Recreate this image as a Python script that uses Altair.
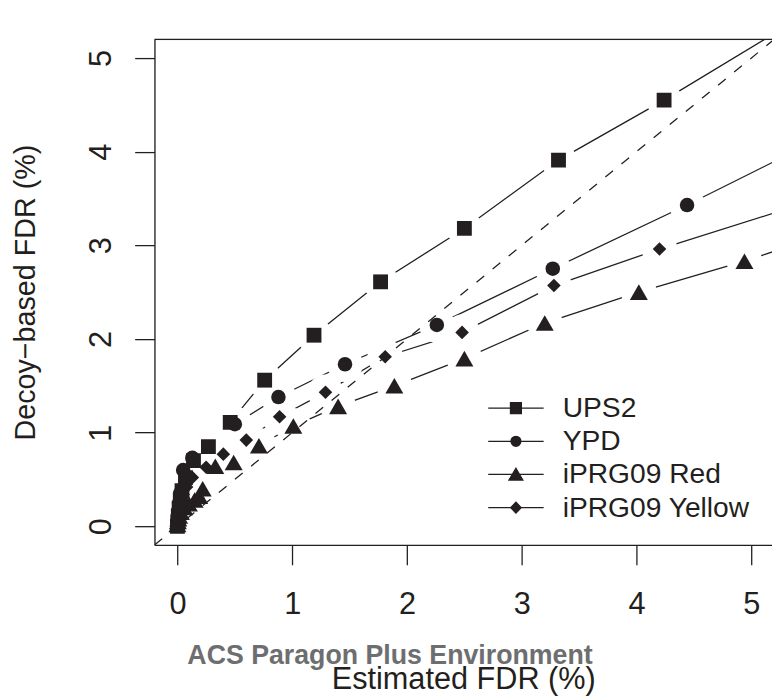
import altair as alt
import pandas as pd

INK = "#231f20"
FONT = "Liberation Sans"

series_names = ["UPS2", "YPD", "iPRG09 Red", "iPRG09 Yellow"]

ups2_x = [0.00, 0.004, 0.008, 0.015, 0.025, 0.04, 0.07, 0.14, 0.27, 0.46, 0.76, 1.19, 1.77, 2.50, 3.32, 4.24, 5.40]
ups2_y = [0.00, 0.05, 0.11, 0.19, 0.28, 0.38, 0.52, 0.70, 0.85, 1.11, 1.56, 2.04, 2.61, 3.18, 3.91, 4.55, 5.41]

ypd_x = [0.00, 0.004, 0.008, 0.015, 0.025, 0.05, 0.13, 0.50, 0.88, 1.46, 2.26, 3.27, 4.44, 5.60]
ypd_y = [0.03, 0.10, 0.17, 0.25, 0.35, 0.60, 0.73, 1.09, 1.38, 1.73, 2.15, 2.75, 3.43, 4.14]

red_x = [0.00, 0.004, 0.008, 0.015, 0.03, 0.06, 0.10, 0.15, 0.19, 0.22, 0.33, 0.49, 0.71, 1.01, 1.40, 1.89, 2.50, 3.20, 4.02, 4.94, 5.60]
red_y = [0.02, 0.05, 0.08, 0.11, 0.15, 0.20, 0.24, 0.28, 0.32, 0.40, 0.64, 0.68, 0.86, 1.07, 1.28, 1.50, 1.79, 2.17, 2.50, 2.83, 3.10]

yel_x = [0.00, 0.004, 0.008, 0.015, 0.03, 0.05, 0.08, 0.13, 0.25, 0.40, 0.60, 0.89, 1.29, 1.81, 2.48, 3.28, 4.20, 5.60]
yel_y = [0.04, 0.08, 0.13, 0.19, 0.26, 0.34, 0.42, 0.52, 0.63, 0.77, 0.92, 1.17, 1.43, 1.81, 2.07, 2.57, 2.96, 3.50]

tick_values = [0, 1, 2, 3, 4, 5]
x_title = "Estimated FDR (%)"
y_title = "Decoy\u2212based FDR (%)"
watermark = "ACS Paragon Plus Environment"

X_DOM = [-0.2, 5.18]
Y_DOM = [-0.2, 5.2]

marker_shapes = ["square", "circle", "triangle-up", "diamond"]
marker_sizes = [225, 216, 330, 188]

# legend symbols: line segment with the marker in the middle (unit = 7 px)
legend_paths = [
    "M-4,0L4,0M-0.786,-0.786H0.786V0.786H-0.786Z",
    "M-4,0L4,0M-0.714,0A0.714,0.714,0,1,1,0.714,0A0.714,0.714,0,1,1,-0.714,0Z",
    "M-4,0L4,0M0,-0.9L1,0.8L-1,0.8Z",
    "M-4,0L4,0M0,-0.8L0.76,0L0,0.8L-0.76,0Z",
]

rows = []
for name, xs, ys in zip(series_names, [ups2_x, ypd_x, red_x, yel_x], [ups2_y, ypd_y, red_y, yel_y]):
    for i, (a, b) in enumerate(zip(xs, ys)):
        rows.append({"series": name, "x": a, "y": b, "idx": i})
df = pd.DataFrame(rows)

xenc = alt.X("x:Q", scale=alt.Scale(domain=X_DOM, nice=False, zero=False),
             axis=alt.Axis(values=tick_values, format="d", title=x_title, grid=False, tickSize=20,
                           tickWidth=1.3, tickColor=INK, domainColor=INK, domainWidth=1.3,
                           labelFont=FONT, labelFontSize=31, labelColor=INK,
                           labelBaseline="alphabetic", labelPadding=49, labelFlush=False,
                           labelOverlap=False, titleFont=FONT, titleFontSize=31,
                           titleFontWeight="normal", titleColor=INK,
                           titleBaseline="alphabetic", titleY=145, zindex=1))
yenc = alt.Y("y:Q", scale=alt.Scale(domain=Y_DOM, nice=False, zero=False),
             axis=alt.Axis(values=tick_values, format="d", title=y_title, grid=False, tickSize=20,
                           tickWidth=1.3, tickColor=INK, domainColor=INK, domainWidth=1.3,
                           labelFont=FONT, labelFontSize=31, labelColor=INK,
                           labelAngle=270, labelAlign="center", labelBaseline="alphabetic",
                           labelPadding=24, labelFlush=False, labelOverlap=False,
                           titleFont=FONT, titleFontSize=29, titleFontWeight="normal",
                           titleColor=INK, titleAngle=270, titleBaseline="alphabetic",
                           titleX=-121, titleY=255.5, zindex=1))

base = alt.Chart(df)

lines = base.mark_line(color=INK, strokeWidth=1.3, clip=True).encode(
    x=xenc, y=yenc, detail="series:N", order="idx:Q")

halos = base.mark_point(shape="circle", filled=True, color="white", size=1300,
                        opacity=1, strokeWidth=0, clip=True).encode(x="x:Q", y="y:Q")

diag = alt.Chart(pd.DataFrame({"a": [0]})).mark_rule(
    color=INK, strokeWidth=1.3, strokeDash=[10, 11], clip=True).encode(
    x=alt.datum(-0.2), y=alt.datum(-0.2), x2=alt.datum(5.6), y2=alt.datum(5.6))

marker_layers = []
for name, shp, sz in zip(series_names, marker_shapes, marker_sizes):
    marker_layers.append(
        base.transform_filter(alt.datum.series == name).mark_point(
            shape=shp, size=sz, filled=True, color=INK, opacity=1, strokeWidth=0, clip=True
        ).encode(x="x:Q", y="y:Q")
    )

legend_layer = base.transform_filter("false").mark_point(
    filled=False, color=INK, fill=INK, stroke=INK, strokeWidth=1.3, size=196, opacity=1
).encode(
    x="x:Q", y="y:Q",
    shape=alt.Shape("series:N", scale=alt.Scale(domain=series_names, range=legend_paths),
                    legend=alt.Legend(title=None, orient="none", direction="vertical",
                                      legendX=351, legendY=358.5, padding=0,
                                      labelFont=FONT, labelFontSize=28.5, labelColor=INK,
                                      labelOffset=33, rowPadding=4.5, labelLimit=0,
                                      symbolSize=196, symbolStrokeWidth=1.3,
                                      symbolOpacity=1)))

top_border = alt.Chart(pd.DataFrame({"a": [0]})).mark_rule(color=INK, strokeWidth=1.3).encode(
    x=alt.datum(X_DOM[0]), x2=alt.datum(X_DOM[1]), y=alt.datum(Y_DOM[1]))

wm = alt.Chart(pd.DataFrame({"t": [watermark]})).mark_text(
    font=FONT, fontSize=27, fontWeight="bold", color="#6d6e70",
    align="center", baseline="alphabetic").encode(
    text="t:N", x=alt.value(238), y=alt.value(631))

chart = alt.layer(lines, halos, diag, *marker_layers, legend_layer, top_border, wm).properties(
    width=624, height=511,
    padding={"left": 148, "top": 28, "right": 0, "bottom": 150},
    autosize=alt.AutoSizeParams(type="none"),
).configure_view(stroke=None).configure(background="white")

chart.save("out.html", embed_options={"renderer": "svg", "actions": False})
